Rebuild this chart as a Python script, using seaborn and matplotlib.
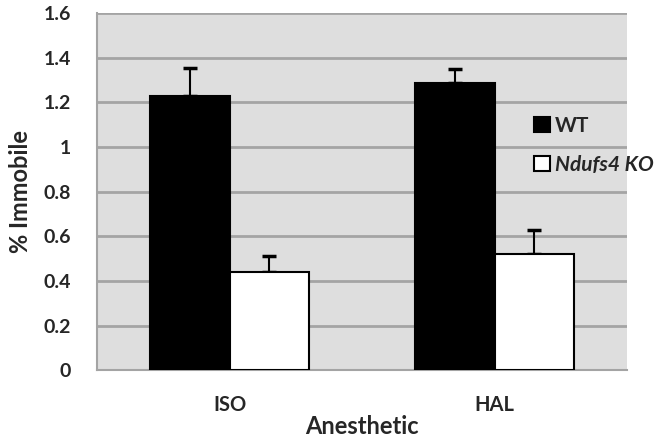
import pandas as pd
import matplotlib.pyplot as plt
import seaborn as sns

# Werte aus der Abbildung
anesthetics = ["ISO", "HAL"]
groups = ["WT", "Ndufs4 KO"]
wt_means = [1.23, 1.285]
wt_err = [0.125, 0.065]
ko_means = [0.44, 0.52]
ko_err = [0.07, 0.11]
y_ticks = [0, 0.2, 0.4, 0.6, 0.8, 1, 1.2, 1.4, 1.6]
y_ticklabels = ["0", "0.2", "0.4", "0.6", "0.8", "1", "1.2", "1.4", "1.6"]

df = pd.DataFrame({
    "anesthetic": anesthetics * 2,
    "group": [groups[0]] * 2 + [groups[1]] * 2,
    "value": wt_means + ko_means,
    "err": wt_err + ko_err,
})

sns.set_style("white")
plt.rcParams['font.family'] = ['Lato', 'DejaVu Sans']

fig = plt.figure(figsize=(6.7, 4.37), dpi=100)
ax = fig.add_axes([0.145, 0.153, 0.791, 0.817])
ax.set_facecolor("#dedede")

sns.barplot(data=df, x="anesthetic", y="value", hue="group", order=anesthetics,
            hue_order=groups, palette=["black", "white"], width=0.6,
            edgecolor="black", linewidth=1.5, errorbar=None, ax=ax, zorder=3)

# Fehlerbalken nur nach oben (wie in Excel)
for i, g in enumerate(groups):
    container = ax.containers[i]
    sub = df[df["group"] == g].set_index("anesthetic").loc[anesthetics]
    xs = [p.get_x() + p.get_width() / 2 for p in container.patches]
    ax.errorbar(xs, sub["value"], yerr=[[0] * len(xs), sub["err"]], fmt="none",
                ecolor="black", elinewidth=1.5, capsize=5, capthick=2.5, zorder=2)

ax.set_xlim(-0.5, 1.5)
ax.set_ylim(0, 1.6)
ax.set_yticks(y_ticks)
ax.set_yticklabels(y_ticklabels, fontsize=14, fontweight="bold")
ax.yaxis.grid(True, color="#a4a4a4", linewidth=2, zorder=0)
ax.set_axisbelow(True)
ax.tick_params(axis="y", length=7, color="#a4a4a4", width=1.5, pad=12)
ax.tick_params(axis="x", length=0, pad=18)
ax.set_xticks([-0.5, 0.5, 1.5], minor=True)
ax.tick_params(axis="x", which="minor", length=6, color="#a4a4a4", width=1.5)
for lab in ax.get_xticklabels():
    lab.set_fontsize(14.5)
    lab.set_fontweight("bold")

for s in ["top", "right"]:
    ax.spines[s].set_visible(False)
for s in ["left", "bottom"]:
    ax.spines[s].set_color("#a4a4a4")
    ax.spines[s].set_linewidth(1.5)

ax.set_xlabel("Anesthetic", fontsize=17, fontweight="bold", labelpad=0)
ax.set_ylabel("% Immobile", fontsize=17, fontweight="bold", labelpad=8)

leg = ax.legend(loc="center left", bbox_to_anchor=(0.825, 0.63), frameon=False,
                handlelength=0.75, handleheight=0.75, handletextpad=0.25,
                labelspacing=0.9, fontsize=15, borderaxespad=0, borderpad=0)
for t in leg.get_texts():
    t.set_fontweight("bold")
leg.get_texts()[1].set_fontstyle("italic")

plt.savefig("out.png", dpi=100)
